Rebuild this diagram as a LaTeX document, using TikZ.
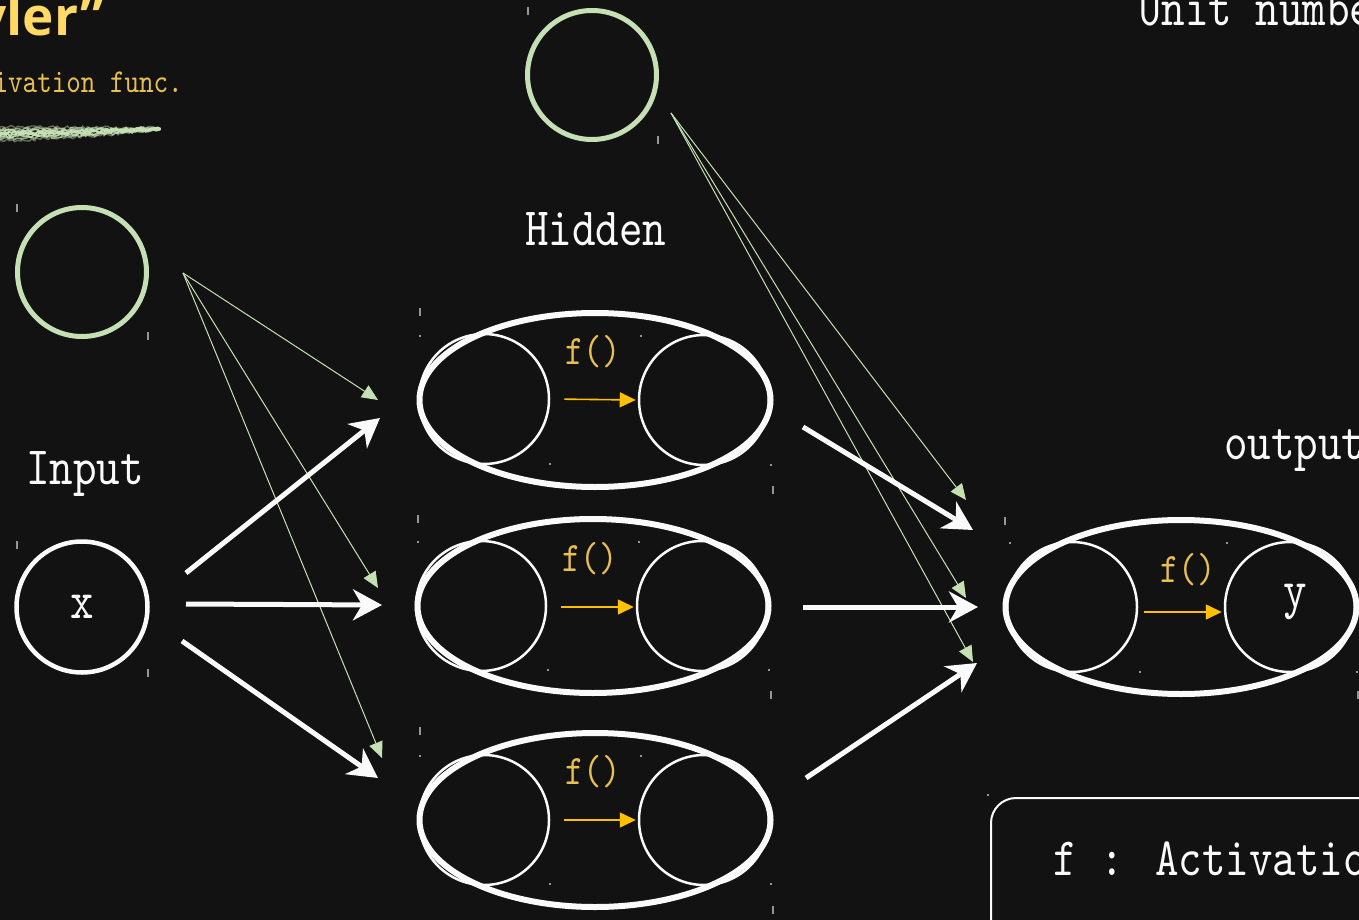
\documentclass[tikz,border=0pt]{standalone}
\usepackage{fontspec}
\usetikzlibrary{arrows.meta,shapes.geometric,decorations.pathmorphing}
\newfontfamily\mono[FakeStretch=0.83]{lmmono10-regular.otf}
\newfontfamily\titlefont{Open Sans}
\definecolor{bg}{RGB}{19,18,18}
\definecolor{chalkgreen}{RGB}{197,224,180}
\definecolor{titleyellow}{RGB}{255,217,102}
\definecolor{fyellow}{RGB}{232,192,80}
\definecolor{arrowyellow}{RGB}{255,192,0}
\definecolor{chalkwhite}{RGB}{250,250,250}
\definecolor{tickgray}{RGB}{150,150,150}
\begin{document}
\begin{tikzpicture}[x=1pt,y=-1pt,
  gring/.style={circle,draw=chalkgreen,line width=5pt,minimum size=129pt,inner sep=0pt},
  wring/.style={circle,draw=chalkwhite,line width=4.5pt,minimum size=131pt,inner sep=0pt,text=chalkwhite,font=\mono\fontsize{54}{60}\selectfont},
  outerell/.style={ellipse,draw=chalkwhite,line width=6pt,minimum width=351pt,minimum height=174pt,inner sep=0pt},
  innerc/.style={circle,draw=chalkwhite,line width=2.5pt,minimum size=130pt,inner sep=0pt,text=chalkwhite,font=\mono\fontsize{54}{60}\selectfont},
  label/.style={anchor=base west,inner sep=0pt,text=chalkwhite,font=\mono\fontsize{54}{60}\selectfont},
  flabel/.style={inner sep=0pt,text=fyellow,font=\mono\fontsize{42}{48}\selectfont},
  warrow/.style={draw=chalkwhite,line width=5pt,-{Stealth[length=29pt,width=31pt,inset=9pt]}},
  garrow/.style={draw=chalkgreen,line width=1pt,-{Triangle[length=16pt,width=14pt]}},
  yarrow/.style={draw=arrowyellow,line width=1.6pt,-{Triangle[length=16pt,width=15pt]}},
  tickmark/.style={draw=tickgray,line width=1.2pt}
]
\fill[bg] (0,0) rectangle (1359,920);
\useasboundingbox (0,0) rectangle (1359,920);

% selection tick artifacts
\foreach \x/\y in {17/208,148/336,17/545,148/673,528/11,658/140,420/312,773/490,418/519,771/695,420/731,773/910,1005/521,1358/695}
  \draw[tickmark] (\x,\y-4) -- (\x,\y+4);
\foreach \x/\y in {420/336,641/336,550/464,771/465,418/542,639/542,548/670,769/670,420/756,641/756,550/884,771/884,1010/543,1227/543,1140/672,1357/672,988/795}
  \draw[tickmark] (\x,\y-1.2) -- (\x,\y+1.2);

% title
\node[anchor=base east,inner sep=0pt,text=titleyellow,font=\titlefont\bfseries\fontsize{53}{60}\selectfont] (title) at (104,36) {yler”};
\node[anchor=base east,inner sep=0pt,text=fyellow,font=\mono\fontsize{33.4}{38}\selectfont] (subtitle) at (183,93) {Activation func.};

% chalk stroke
\pgfmathsetseed{7}
\foreach \dy/\op/\lw in {-7/0.45/1.4,-5/0.7/1.6,-3/0.9/1.8,-1/1/2,1/1/2,3/0.9/1.8,5/0.7/1.6,7/0.45/1.4}
  \draw[chalkgreen,opacity=\op,line width=\lw pt,line cap=round,decorate,decoration={random steps,segment length=2.5pt,amplitude=1.6pt}] (0,134+\dy) -- (90,132+0.6*\dy) -- (160,129+0.15*\dy);

% labels
\node[label] (unit) at (1138,26) {Unit number};
\node[label] (hid) at (525,245) {Hidden};
\node[label] (inp) at (26,484) {Input};
\node[label] (outl) at (1224,459) {output};

% green rings
\node[gring] (gt) at (592,75) {};
\node[gring] (gl) at (82,272) {};

% input
\node[wring] (in) at (82,607) {x};

% hidden units
\node[outerell] (h1) at (595,400) {};
\node[innerc] (h1a) at (484,399) {};
\node[innerc] (h1b) at (704,400) {};
\node[outerell] (h2) at (593,606) {};
\node[innerc] (h2a) at (481,606) {};
\node[innerc] (h2b) at (702,606) {};
\node[outerell] (h3) at (595,820) {};
\node[innerc] (h3a) at (484,820) {};
\node[innerc] (h3b) at (704,820) {};

% output unit
\node[outerell] (o1) at (1181,607) {};
\node[innerc] (o1a) at (1072,607) {};
\node[innerc] (o1b) at (1290,607) {};
\node[inner sep=0pt,text=chalkwhite,font=\mono\fontsize{54}{60}\selectfont] (ylab) at (1295,602) {y};

% f() labels and yellow arrows
\node[flabel] (f1) at (593,352) {f()};
\node[flabel] (f2) at (590,559) {f()};
\node[flabel] (f3) at (593,772) {f()};
\node[flabel] (f4) at (1188,570) {f()};
\draw[yarrow,shorten <=14pt,shorten >=2pt] (h1a.east) -- (h1b.west);
\draw[yarrow,shorten <=14pt,shorten >=2pt] ([yshift=-1pt]h2a.east) -- ([yshift=-1pt]h2b.west);
\draw[yarrow,shorten <=14pt,shorten >=2pt] (h3a.east) -- (h3b.west);
\draw[yarrow,shorten <=6pt,shorten >=2pt] ([yshift=-5pt]o1a.east) -- ([yshift=-5pt]o1b.west);

% connector end points
\coordinate (a1s) at (186,573); \coordinate (a1e) at (380,418);
\coordinate (a2s) at (186,604); \coordinate (a2e) at (382,605);
\coordinate (a3s) at (182,641); \coordinate (a3e) at (378,778);
\coordinate (b1s) at (803,427); \coordinate (b1e) at (973,530);
\coordinate (b2s) at (803,607); \coordinate (b2e) at (978,607);
\coordinate (b3s) at (806,778); \coordinate (b3e) at (977,663);
\coordinate (gls) at (183,273);
\coordinate (g1e) at (378,400); \coordinate (g2e) at (378,588); \coordinate (g3e) at (382,758);
\coordinate (gts) at (671,113);
\coordinate (g4e) at (966,500); \coordinate (g5e) at (966,598); \coordinate (g6e) at (973,662);

% green (bias) connectors
\draw[garrow] (gls) -- (g1e);
\draw[garrow] (gls) -- (g2e);
\draw[garrow] (gls) -- (g3e);
\draw[garrow] (gts) -- (g4e);
\draw[garrow] (gts) -- (g5e);
\draw[garrow] (gts) -- (g6e);

% white connectors
\draw[warrow] (a1s) -- (a1e);
\draw[warrow] (a2s) -- (a2e);
\draw[warrow] (a3s) -- (a3e);
\draw[warrow] (b1s) -- (b1e);
\draw[warrow] (b2s) -- (b2e);
\draw[warrow] (b3s) -- (b3e);

% legend box
\node[draw=chalkwhite,line width=2pt,rounded corners=25pt,minimum width=500pt,minimum height=160pt,anchor=north west,inner sep=0pt] (fbox) at (990,797) {};
\node[label] (ftext) at (1053,875) {f : Activation function};
\end{tikzpicture}
\end{document}
